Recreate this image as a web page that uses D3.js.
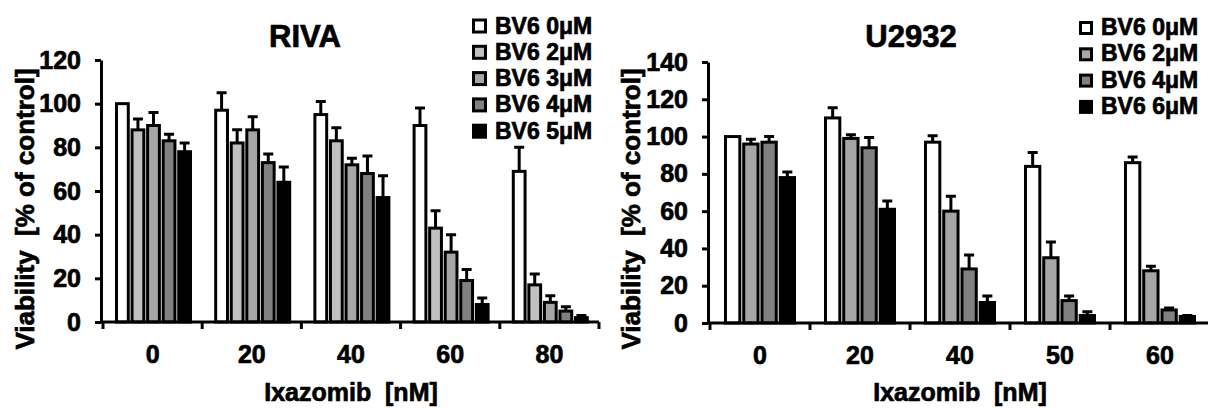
<!DOCTYPE html>
<html>
<head>
<meta charset="utf-8">
<script src="https://cdn.jsdelivr.net/npm/d3@7"></script>
<style>
  body { margin: 0; background: #fff; }
  svg text { font-family: Arial, "Liberation Sans", sans-serif; font-weight: bold; fill: #000; stroke: #000; stroke-width: 0.7px; white-space: pre; }
</style>
</head>
<body>
<svg id="chart" width="1208" height="408"></svg>
<script>
// RIVA panel
var rivaDoses = ['0', '20', '40', '60', '80'];
var rivaSeries = ['BV6 0μM', 'BV6 2μM', 'BV6 3μM', 'BV6 4μM', 'BV6 5μM'];
var rivaColors = ['#ffffff', '#c0c0c0', '#a6a6a6', '#808080', '#000000'];
var rivaValues = [
    [100, 88, 90, 83, 78],
    [97, 82, 88, 73, 64],
    [95, 83, 72, 68, 57],
    [90, 43, 32, 19, 8],
    [69, 17, 9, 5, 2]
];
var rivaErrors = [
    [0, 5, 6, 3, 4],
    [8, 6, 6, 4, 7],
    [6, 6, 3, 8, 10],
    [8, 8, 8, 5, 3],
    [11, 5, 3, 2, 1]
];
var rivaTicks = [0, 20, 40, 60, 80, 100, 120];

// U2932 panel
var u2932Doses = ['0', '20', '40', '50', '60'];
var u2932Series = ['BV6 0μM', 'BV6 2μM', 'BV6 4μM', 'BV6 6μM'];
var u2932Colors = ['#ffffff', '#a6a6a6', '#808080', '#000000'];
var u2932Values = [
    [100, 96, 97, 78],
    [110, 99, 94, 61],
    [97, 60, 29, 11],
    [84, 35, 12, 4],
    [86, 28, 7, 3.5]
];
var u2932Errors = [
    [0, 2.5, 3, 3],
    [5.5, 2, 5.5, 4.5],
    [3.5, 8, 7.5, 3.5],
    [7.5, 8.5, 2.5, 2],
    [3, 2.5, 1, 0.5]
];
var u2932Ticks = [0, 20, 40, 60, 80, 100, 120, 140];

var svg = d3.select('#chart');

function drawPanel(opt) {

    var g = svg.append('g');

    var x = d3.scaleBand().domain(opt.doses).range(opt.xRange);
    var x1 = d3.scaleBand().domain(opt.series).range(opt.groupRange).paddingInner(0.05);
    var y = d3.scaleLinear().domain([0, opt.yMax]).range(opt.yRange);

    var sw = 3;

    // bars
    var group = g.selectAll('g.group')
        .data(opt.values)
        .enter().append('g')
        .attr('class', 'group')
        .attr('transform', function(d, i) { return 'translate(' + x(opt.doses[i]) + ',0)'; });

    var bar = group.selectAll('g.bar')
        .data(function(row, i) {
            return row.map(function(v, j) { return {v: v, e: opt.errors[i][j], s: opt.series[j], c: opt.colors[j]}; });
        })
        .enter().append('g')
        .attr('class', 'bar');

    // error bars (upper only)
    bar.filter(function(d) { return d.e > 0; })
        .append('path')
        .attr('fill', 'none')
        .attr('stroke', '#000')
        .attr('stroke-width', sw)
        .attr('d', function(d) {
            var cx = x1(d.s) + x1.bandwidth() / 2,
                yt = y(d.v + d.e);
            return 'M' + cx + ',' + y(d.v) + 'V' + yt + 'M' + (cx - 5) + ',' + yt + 'H' + (cx + 5);
        });

    bar.append('rect')
        .attr('x', function(d) { return x1(d.s) + sw / 2; })
        .attr('y', function(d) { return y(d.v); })
        .attr('width', x1.bandwidth() - sw)
        .attr('height', function(d) { return y(0) - y(d.v); })
        .attr('fill', function(d) { return d.c; })
        .attr('stroke', '#000')
        .attr('stroke-width', sw);

    // y axis
    var yAxis = d3.axisLeft(y).tickValues(opt.ticks).tickSize(6).tickSizeOuter(0).tickPadding(14);
    var ya = g.append('g')
        .attr('transform', 'translate(' + opt.yAxisX + ',0)')
        .call(yAxis);
    ya.select('.domain').attr('stroke-width', 3);
    ya.selectAll('.tick line').attr('stroke-width', 3);
    ya.selectAll('.tick text').style('font-size', '25px');

    // x axis line and tick marks on band edges
    g.append('line')
        .attr('x1', opt.yAxisX).attr('x2', opt.xRange[1])
        .attr('y1', y(0)).attr('y2', y(0))
        .attr('stroke', '#000').attr('stroke-width', 3);

    var edges = opt.doses.map(function(d) { return x(d); }).concat([opt.xRange[1]]);
    g.selectAll('line.xtick')
        .data(edges)
        .enter().append('line')
        .attr('class', 'xtick')
        .attr('x1', function(d) { return d; }).attr('x2', function(d) { return d; })
        .attr('y1', y(0)).attr('y2', y(0) + 7)
        .attr('stroke', '#000').attr('stroke-width', 3);

    g.selectAll('text.xlab')
        .data(opt.doses)
        .enter().append('text')
        .attr('class', 'xlab')
        .attr('x', function(d) { return x(d) + x.bandwidth() / 2; })
        .attr('y', y(0) + 41)
        .attr('text-anchor', 'middle')
        .style('font-size', '25px')
        .text(function(d) { return d; });

    // axis titles
    g.append('text')
        .attr('text-anchor', 'middle')
        .attr('x', (opt.xRange[0] + opt.xRange[1]) / 2)
        .attr('y', 401)
        .style('font-size', '25px')
        .text('Ixazomib  [nM]');

    g.append('text')
        .attr('text-anchor', 'middle')
        .attr('transform', 'translate(' + opt.yLabelX + ',209)rotate(-90)')
        .style('font-size', '26px')
        .text('Viability  [% of control]');

    // title
    g.append('text')
        .attr('text-anchor', 'middle')
        .attr('x', opt.titleX)
        .attr('y', 47)
        .style('font-size', '31px')
        .text(opt.title);

    // legend
    var leg = g.selectAll('g.legend')
        .data(opt.series)
        .enter().append('g')
        .attr('class', 'legend')
        .attr('transform', function(d, i) { return 'translate(' + opt.legendX + ',' + (opt.legendY + i * 26.3) + ')'; });

    leg.append('rect')
        .attr('x', sw / 2)
        .attr('y', -opt.swatch + sw / 2)
        .attr('width', opt.swatch - sw)
        .attr('height', opt.swatch - sw)
        .attr('fill', function(d, i) { return opt.colors[i]; })
        .attr('stroke', '#000')
        .attr('stroke-width', sw);

    leg.append('text')
        .attr('x', opt.swatch + 8)
        .attr('y', 0)
        .style('font-size', '23px')
        .text(function(d) { return d; });
}

drawPanel({
    title: 'RIVA', titleX: 305,
    doses: rivaDoses, series: rivaSeries, colors: rivaColors,
    values: rivaValues, errors: rivaErrors, ticks: rivaTicks,
    yMax: 120, yRange: [322, 60],
    xRange: [103, 599], groupRange: [12, 89],
    yAxisX: 101, yLabelX: 34,
    legendX: 472, legendY: 33.5, swatch: 15
});

drawPanel({
    title: 'U2932', titleX: 911,
    doses: u2932Doses, series: u2932Series, colors: u2932Colors,
    values: u2932Values, errors: u2932Errors, ticks: u2932Ticks,
    yMax: 140, yRange: [323, 62],
    xRange: [710, 1210], groupRange: [14, 86],
    yAxisX: 708, yLabelX: 640,
    legendX: 1079, legendY: 35, swatch: 14
});
</script>
</body>
</html>
